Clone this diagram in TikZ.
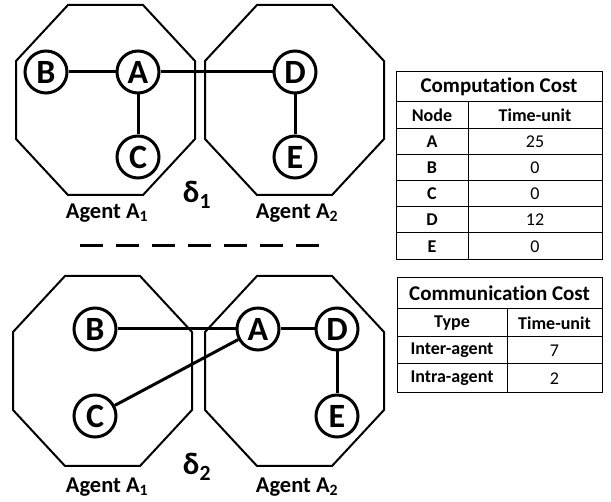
\documentclass[tikz,border=0pt]{standalone}
\usepackage{fontspec}
\setmainfont{Carlito}[Ligatures=NoCommon]
\usetikzlibrary{positioning}

\begin{document}
\begin{tikzpicture}[
    x = 1pt, y = -1pt, % pixel grid, y grows downwards
    task/.style = {circle, draw, line width=3pt, minimum size=42pt,
                   inner sep=0pt, font=\bfseries\fontsize{34}{34}\selectfont},
    link/.style = {line width=3pt}, % edges of the task graph
    agent/.style = {line width=2pt, line join=miter},
    lbl/.style = {font=\bfseries\fontsize{22.5}{22.5}\selectfont},
    delta/.style = {font=\bfseries\fontsize{31}{31}\selectfont},
    grid/.style = {line width=1pt},
    head/.style = {font=\bfseries\fontsize{21}{21}\selectfont},
    cell/.style = {font=\bfseries\fontsize{18}{18}\selectfont},
    num/.style = {font=\fontsize{18}{18}\selectfont}
    ]
    \useasboundingbox (0,0) rectangle (611,502);

    % agents (octagons)
    \foreach \ox/\oy in {16/5, 205/5, 13/276, 205/276}
        \draw[agent] (\ox+52,\oy) -- ++(75,0) -- ++(52,56) -- ++(0,78)
            -- ++(-52,56) -- ++(-75,0) -- ++(-52,-56) -- ++(0,-78) -- cycle;

    % mapping delta_1
    \node[task] (a1) at (138,72) {A};
    \node[task] (b1) [left=47pt of a1] {B};
    \node[task] (c1) [below=40pt of a1] {C};
    \node[task] (d1) at (295,72) {D};
    \node[task] (e1) [below=40pt of d1] {E};

    \path[link] (b1) edge (a1)
                (a1) edge (c1)
                (a1) edge (d1)
                (d1) edge (e1);

    \node[delta] (del1) at (197,195) {δ\textsubscript{1}};
    \node[lbl] (ag11) at (107,213) {Agent A\textsubscript{1}};
    \node[lbl] (ag12) at (297,213) {Agent A\textsubscript{2}};

    \draw[line width=3pt, dash pattern=on 23pt off 13pt] (80,246) -- (320,246);

    % mapping delta_2
    \node[task] (b2) at (95,329) {B};
    \node[task] (c2) [below=42pt of b2] {C};
    \node[task] (a2) at (258,329) {A};
    \node[task] (d2) [right=34pt of a2] {D};
    \node[task] (e2) [below=42pt of d2] {E};

    \path[link] (b2) edge (a2)
                (c2) edge (a2)
                (a2) edge (d2)
                (d2) edge (e2);

    \node[delta] (del2) at (197,467) {δ\textsubscript{2}};
    \node[lbl] (ag21) at (107,487) {Agent A\textsubscript{1}};
    \node[lbl] (ag22) at (297,487) {Agent A\textsubscript{2}};

    % computation cost table
    \draw[grid] (396,72) rectangle (602,260);
    \foreach \y in {102,129,155,181,207,233}
        \draw[grid] (396,\y) -- (602,\y);
    \draw[grid] (468,102) -- (468,260);
    \node[head] (comp) at (499,87) {Computation Cost};
    \node[cell] (compn) at (432,115.5) {Node};
    \node[cell] (compt) at (535,115.5) {Time-unit};
    \foreach \n/\v/\y in {A/25/142, B/0/168, C/0/194, D/12/220, E/0/246.5} {
        \node[cell] (cn\n) at (432,\y) {\n};
        \node[num] (cv\n) at (535,\y) {\v};
    }

    % communication cost table
    \draw[grid] (397,278) rectangle (602,393);
    \foreach \y in {309,337,364}
        \draw[grid] (397,\y) -- (602,\y);
    \draw[grid] (507,309) -- (507,393);
    \node[head] (comm) at (499.5,293.5) {Communication Cost};
    \node[cell] (commt) at (452,323) {Type};
    \node[cell] (commu) at (554.5,323) {Time-unit};
    \node[cell] (inter) at (452,350.5) {Inter-agent};
    \node[num] (interv) at (554.5,350.5) {7};
    \node[cell] (intra) at (452,378.5) {Intra-agent};
    \node[num] (intrav) at (554.5,378.5) {2};
\end{tikzpicture}
\end{document}
